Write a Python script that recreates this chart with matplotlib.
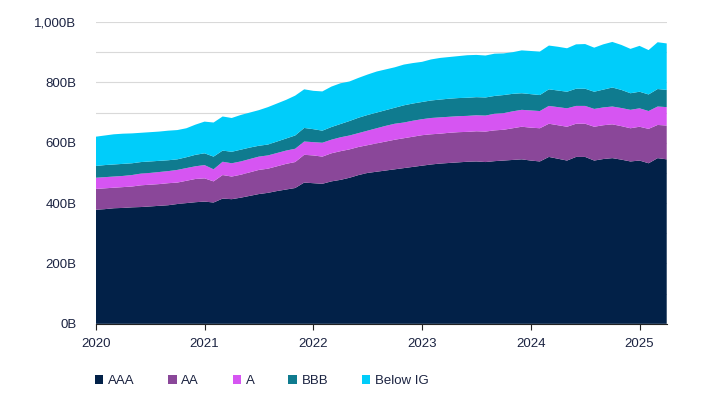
import numpy as np
import matplotlib
matplotlib.use("Agg")
import matplotlib.pyplot as plt
from matplotlib.patches import Patch

plt.rcParams['font.family'] = ['Liberation Sans', 'DejaVu Sans']

# monthly, Jan 2020 - Apr 2025, values in B
months = np.arange(64)

aaa = [378, 380, 383, 384, 386, 387, 389, 391, 393, 397, 400, 403, 405, 402, 415, 413,
       418, 424, 430, 434, 440, 445, 450, 468, 466, 464, 472, 477, 484, 493, 500, 504,
       508, 512, 516, 520, 524, 528, 531, 533, 535, 537, 538, 536, 539, 541, 543, 545,
       541, 538, 553, 547, 541, 553, 553, 541, 546, 549, 544, 538, 541, 532, 549, 545]
aa = [69, 69, 68, 69, 69, 72, 72, 72, 73, 71, 74, 77, 77, 70, 78, 75,
      76, 78, 80, 80, 82, 85, 86, 92, 92, 90, 93, 95, 94, 93, 92, 94,
      96, 98, 99, 100, 101, 100, 99, 100, 100, 99, 100, 101, 102, 102, 105, 108,
      109, 110, 110, 111, 112, 110, 110, 112, 112, 112, 111, 110, 112, 114, 110, 112]
a = [37, 37, 37, 37, 38, 39, 39, 40, 40, 42, 42, 42, 44, 40, 44, 44,
     44, 44, 44, 44, 44, 44, 44, 44, 44, 46, 45, 46, 46, 46, 48, 50,
     52, 53, 52, 53, 53, 54, 54, 53, 53, 53, 53, 53, 55, 55, 56, 56,
     57, 57, 59, 60, 61, 59, 59, 59, 59, 59, 60, 61, 61, 59, 61, 61]
bbb = [39, 40, 40, 40, 39, 38, 38, 37, 36, 35, 36, 38, 39, 42, 37, 38,
       39, 38, 36, 36, 38, 40, 44, 45, 43, 40, 42, 44, 48, 51, 52, 52,
       52, 53, 57, 57, 57, 58, 59, 60, 60, 60, 60, 60, 59, 60, 58, 55,
       54, 53, 55, 55, 55, 57, 57, 57, 59, 63, 60, 55, 55, 55, 58, 57]
below_ig = [97, 98, 100, 100, 99, 97, 97, 97, 98, 97, 96, 100, 105, 113, 113, 112,
            115, 116, 118, 124, 126, 128, 132, 128, 127, 130, 134, 135, 131, 132, 134, 136,
            135, 134, 135, 134, 133, 136, 138, 138, 139, 141, 140, 139, 140, 138, 138, 142,
            143, 144, 145, 145, 144, 147, 148, 146, 150, 151, 149, 147, 152, 147, 155, 154]

labels = ['AAA', 'AA', 'A', 'BBB', 'Below IG']
colors = ['#022148', '#8a4799', '#d655f2', '#0f7b8f', '#00cdfa']
years = ['2020', '2021', '2022', '2023', '2024', '2025']
text_color = '#1b2341'

fig = plt.figure(figsize=(7.2, 3.93), dpi=100)
ax = fig.add_axes([0.133, 0.176, 0.793, 0.768])

ax.stackplot(months, aaa, aa, a, bbb, below_ig, colors=colors, linewidth=0)

ax.set_xlim(0, 63)
ax.set_ylim(0, 1000)
ax.set_xticks(np.arange(0, 64, 12))
ax.set_xticklabels(years)
ax.set_yticks(np.arange(0, 1001, 200))
ax.set_yticks(np.arange(0, 1001, 100), minor=True)
ax.set_yticklabels([f'{v:,}B' for v in range(0, 1001, 200)])

ax.grid(axis='y', which='both', color='#d9d9d9', linewidth=0.8)
ax.set_axisbelow(True)

for side in ('top', 'right', 'left'):
    ax.spines[side].set_visible(False)
ax.spines['bottom'].set_color('#222222')
ax.spines['bottom'].set_linewidth(0.8)
ax.spines['bottom'].set_zorder(5)

ax.tick_params(axis='y', which='both', length=0, pad=14, labelsize=9.5, labelcolor=text_color)
ax.tick_params(axis='x', length=4, width=0.8, color='#222222', pad=6,
               labelsize=9.5, labelcolor=text_color)

handles = [Patch(facecolor=c, edgecolor='none') for c in colors]
fig.legend(handles, labels, loc='center left', bbox_to_anchor=(0.115, 0.031),
           ncol=5, frameon=False, handlelength=0.65, handleheight=0.65,
           handletextpad=0.35, columnspacing=2.55, fontsize=9.5, labelcolor=text_color)

fig.savefig('out.png', dpi=100)
